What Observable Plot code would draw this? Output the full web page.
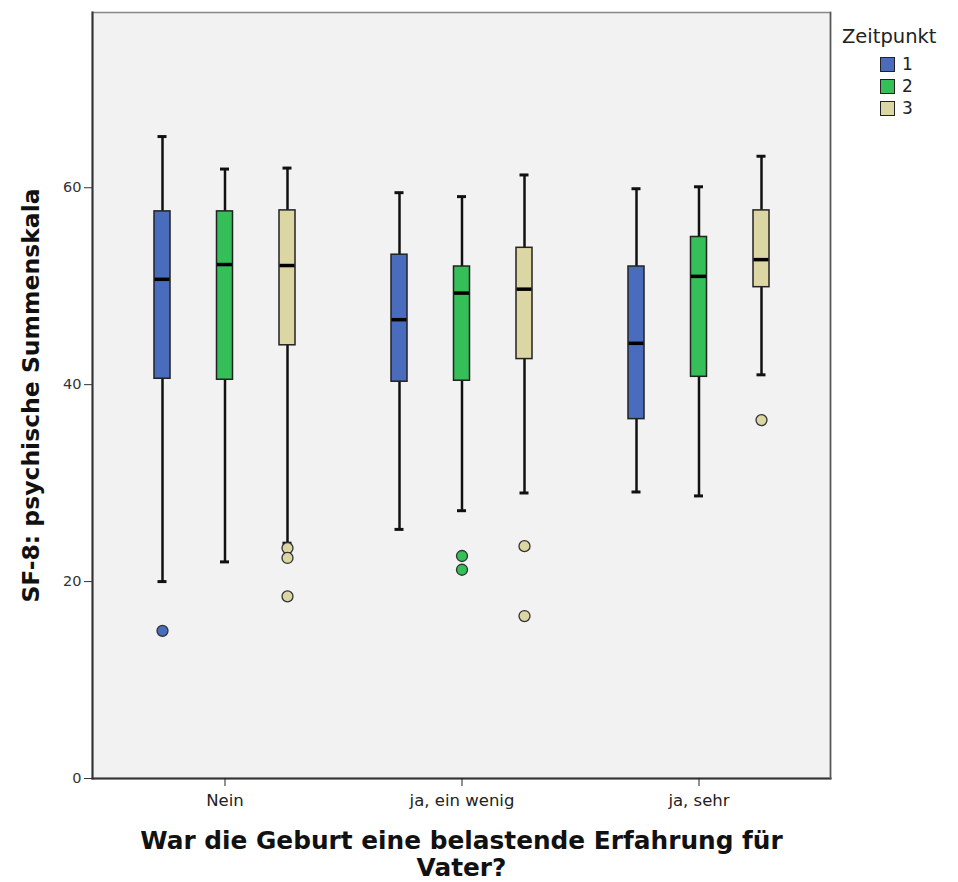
<!DOCTYPE html>
<html>
<head>
<meta charset="utf-8">
<script src="https://cdn.jsdelivr.net/npm/d3@7"></script>
<script src="https://cdn.jsdelivr.net/npm/@observablehq/plot@0.6"></script>
<style>
  html, body { margin: 0; padding: 0; background: #fff; }
  #wrap { position: relative; width: 958px; height: 882px; font-family: "DejaVu Sans", sans-serif; }
  #legend { position: absolute; left: 842px; top: 25px; color: #222; }
  #legend .title { font-size: 19.5px; line-height: 24px; margin-bottom: 4px; }
  #legend .item { display: flex; align-items: center; height: 22px; margin-left: 38px; font-size: 17px; }
  #legend .sw { width: 15px; height: 15px; border: 1.5px solid #222; margin-right: 7px; box-sizing: border-box; }
</style>
</head>
<body>
<div id="wrap"><div id="legend"></div></div>
<script>
// Categories
const groups = ["Nein", "ja, ein wenig", "ja, sehr"];
const zeitpunkte = ["1", "2", "3"];
const colors = ["#4a6cbc", "#34bf58", "#dcd6a4"];

// Box statistics, order: Nein 1,2,3 | ja, ein wenig 1,2,3 | ja, sehr 1,2,3
const whiskerLow  = [20.0, 22.0, 23.9, 25.3, 27.2, 29.0, 29.1, 28.7, 41.0];
const quart1      = [40.6, 40.5, 44.0, 40.3, 40.4, 42.6, 36.5, 40.8, 49.9];
const medians     = [50.7, 52.2, 52.1, 46.6, 49.3, 49.7, 44.2, 51.0, 52.7];
const quart3      = [57.6, 57.6, 57.7, 53.2, 52.0, 53.9, 52.0, 55.0, 57.7];
const whiskerHigh = [65.2, 61.9, 62.0, 59.5, 59.1, 61.3, 59.9, 60.1, 63.2];

// Outliers
const outlierGroup = ["Nein", "Nein", "Nein", "Nein", "ja, ein wenig", "ja, ein wenig", "ja, ein wenig", "ja, ein wenig", "ja, sehr"];
const outlierZeit  = ["1", "3", "3", "3", "2", "2", "3", "3", "3"];
const outlierValue = [15.0, 23.4, 22.4, 18.5, 22.6, 21.2, 23.6, 16.5, 36.4];

// Y ticks
const yTicks = [0, 20, 40, 60];

const boxes = [];
groups.forEach((g, gi) => zeitpunkte.forEach((t, ti) => {
  const i = gi * 3 + ti;
  boxes.push({group: g, t, lo: whiskerLow[i], q1: quart1[i], med: medians[i], q3: quart3[i], hi: whiskerHigh[i]});
}));
const outliers = outlierValue.map((v, i) => ({group: outlierGroup[i], t: outlierZeit[i], value: v}));

const offsets = [-62.5, 0, 62.5];
const marks = [
  Plot.frame({fill: "#f2f2f2", stroke: "#888", strokeWidth: 1.5}),
  Plot.frame({anchor: "left", stroke: "#333", strokeWidth: 2}),
  Plot.frame({anchor: "bottom", stroke: "#333", strokeWidth: 2}),
  Plot.frame({anchor: "right", stroke: "#555", strokeWidth: 1.5}),
  Plot.axisY({ticks: yTicks, tickSize: 8, tickPadding: 3, fontSize: 14.5, color: "#333"}),
  Plot.axisX({tickSize: 8, tickPadding: 8, fontSize: 16.5, color: "#222", label: null})
];
zeitpunkte.forEach((t, ti) => {
  const b = boxes.filter(d => d.t === t);
  const o = outliers.filter(d => d.t === t);
  const dx = offsets[ti];
  marks.push(
    Plot.ruleX(b, {x: "group", y1: "lo", y2: "q1", dx, stroke: "#111", strokeWidth: 2.5}),
    Plot.ruleX(b, {x: "group", y1: "q3", y2: "hi", dx, stroke: "#111", strokeWidth: 2.5}),
    Plot.tickY(b, {x: "group", y: "lo", dx, insetLeft: 114, insetRight: 114, stroke: "#111", strokeWidth: 3}),
    Plot.tickY(b, {x: "group", y: "hi", dx, insetLeft: 114, insetRight: 114, stroke: "#111", strokeWidth: 3}),
    Plot.barY(b, {x: "group", y1: "q1", y2: "q3", dx, insetLeft: 110.5, insetRight: 110.5, fill: colors[ti], stroke: "#222", strokeWidth: 1.5}),
    Plot.tickY(b, {x: "group", y: "med", dx, insetLeft: 111, insetRight: 111, stroke: "#000", strokeWidth: 3.5}),
    Plot.dot(o, {x: "group", y: "value", dx, r: 5.5, fill: colors[ti], stroke: "#333", strokeWidth: 1.3})
  );
});
marks.push(
  Plot.text(["SF-8: psychische Summenskala"], {frameAnchor: "left", rotate: -90, dx: -61, textAnchor: "middle", lineAnchor: "middle", fontSize: 23.5, fontWeight: "bold", fill: "#111"}),
  Plot.text(["War die Geburt eine belastende Erfahrung für\nVater?"], {frameAnchor: "bottom", dy: 51, textAnchor: "middle", lineAnchor: "top", lineHeight: 1.1, fontSize: 24.8, fontWeight: "bold", fill: "#111"})
);

const chart = Plot.plot({
  width: 958,
  height: 882,
  marginLeft: 92,
  marginRight: 128,
  marginTop: 12,
  marginBottom: 104,
  style: {fontFamily: "DejaVu Sans", background: "#fff"},
  x: {domain: groups, paddingInner: 0, paddingOuter: 0.054, label: null},
  y: {domain: [0, 77.8], label: null},
  marks
});
document.getElementById("wrap").prepend(chart);

const legend = document.getElementById("legend");
const title = document.createElement("div");
title.className = "title";
title.textContent = "Zeitpunkt";
legend.appendChild(title);
zeitpunkte.forEach((t, i) => {
  const item = document.createElement("div");
  item.className = "item";
  const sw = document.createElement("span");
  sw.className = "sw";
  sw.style.background = colors[i];
  const lab = document.createElement("span");
  lab.textContent = t;
  item.appendChild(sw);
  item.appendChild(lab);
  legend.appendChild(item);
});
</script>
</body>
</html>
